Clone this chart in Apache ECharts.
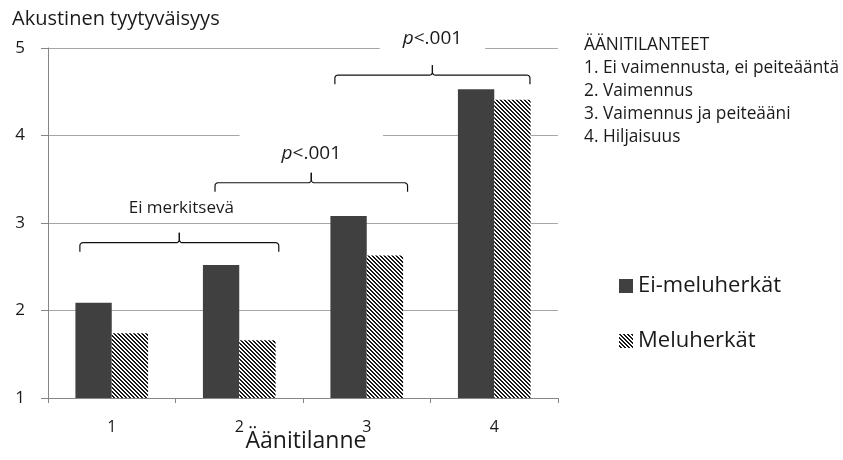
<!DOCTYPE html>
<html><head><meta charset="utf-8">
<script src="https://cdn.jsdelivr.net/npm/echarts@6/dist/echarts.min.js"></script>
<style>html,body{margin:0;padding:0;background:#fff}#c{width:843px;height:460px}</style>
</head><body><div id="c"></div>
<script>
const categories = ['1', '2', '3', '4'];
const eiMeluherkat = [2.09, 2.52, 3.08, 4.53];
const meluherkat = [1.74, 1.66, 2.63, 4.41];
const seriesNames = ['Ei-meluherkät', 'Meluherkät'];
const listLines = ['ÄÄNITILANTEET', '1. Ei vaimennusta, ei peiteääntä', '2. Vaimennus', '3. Vaimennus ja peiteääni', '4. Hiljaisuus'];
// brackets: category-index span and value level
const bracketFrom = [-0.25, 0.81, 1.75];
const bracketTo = [1.31, 2.32, 3.28];
const bracketLevel = [2.775, 3.46, 4.69];
const bracketLabels = ['Ei merkitsevä', '{i|p}<.001', '{i|p}<.001'];

// annotation layout (pixels)
const labelRise = [35, 36, 37];
const labelPad = [0, [18, 42, 4, 42], [4, 23, 4, 23]];
const labelSize = [17, 19, 19];

const FONT = '"Open Sans", "Noto Sans", sans-serif';
const TXT = '#1a1a1a';

function makeHatch() {
  const n = 4;
  const c = document.createElement('canvas');
  c.width = n; c.height = n;
  const ctx = c.getContext('2d');
  const img = ctx.createImageData(n, n);
  for (let y = 0; y < n; y++) for (let x = 0; x < n; x++) {
    const k = ((x - y) % n + n) % n;
    const v = k < 2 ? 25 : 255;
    const i = (y * n + x) * 4;
    img.data[i] = img.data[i + 1] = img.data[i + 2] = v;
    img.data[i + 3] = 255;
  }
  ctx.putImageData(img, 0, 0);
  return c;
}
const hatch = { image: makeHatch(), repeat: 'repeat' };

const chart = echarts.init(document.getElementById('c'), null, { renderer: 'canvas' });
chart.setOption({
  animation: false,
  backgroundColor: '#fff',
  title: {
    text: 'Akustinen tyytyväisyys', left: 7, top: 4,
    textStyle: { fontFamily: FONT, fontSize: 20, fontWeight: 'normal', color: TXT }
  },
  legend: {
    orient: 'vertical', left: 614, top: 270, itemGap: 33,
    itemWidth: 14, itemHeight: 14, icon: 'rect',
    textStyle: { fontFamily: FONT, fontSize: 22, color: TXT },
    data: seriesNames
  },
  grid: { left: 48, right: 285, top: 48, bottom: 62, outerBoundsMode: 'none', containLabel: false },
  xAxis: {
    type: 'category', data: categories,
    name: 'Äänitilanne', nameLocation: 'middle', nameGap: 32, nameMoveOverlap: false,
    nameTextStyle: { fontFamily: FONT, fontSize: 23, color: TXT, padding: [0, 0, 0, 6] },
    axisLine: { lineStyle: { color: '#868686', width: 1 } },
    axisTick: { show: true, length: 5, lineStyle: { color: '#868686' } },
    axisLabel: { fontFamily: FONT, fontSize: 16, color: TXT, margin: 21 }
  },
  yAxis: {
    type: 'value', min: 1, max: 5, interval: 1,
    axisLine: { show: true, lineStyle: { color: '#868686', width: 1 } },
    axisTick: { show: true, length: 7, lineStyle: { color: '#868686' } },
    axisLabel: { fontFamily: FONT, fontSize: 17, color: TXT, margin: 23 },
    splitLine: { lineStyle: { color: '#a6a6a6', width: 1 } }
  },
  series: [
    { name: seriesNames[0], type: 'bar', data: eiMeluherkat, barGap: '0%', barCategoryGap: '43%',
      itemStyle: { color: '#404040' } },
    { name: seriesNames[1], type: 'bar', data: meluherkat, barGap: '0%', barCategoryGap: '43%',
      itemStyle: { color: hatch } }
  ]
});

function arcPts(cx, cy, r, a0, a1, out) {
  const n = 6;
  for (let k = 0; k <= n; k++) {
    const t = a0 + (a1 - a0) * k / n;
    out.push([cx + r * Math.cos(t), cy + r * Math.sin(t)]);
  }
}
const graphics = [];
const p0 = chart.convertToPixel({ xAxisIndex: 0 }, 0);
const p1 = chart.convertToPixel({ xAxisIndex: 0 }, 1);
const step = p1 - p0;
const drop = 9, rise = 10, r = 3;
for (let b = 0; b < bracketFrom.length; b++) {
  const x0 = p0 + step * bracketFrom[b];
  const x1 = p0 + step * bracketTo[b];
  const y = chart.convertToPixel({ yAxisIndex: 0 }, bracketLevel[b]);
  const xc = (x0 + x1) / 2;
  const left = [[x0, y + drop]];
  arcPts(x0 + r, y + r, r, Math.PI, 1.5 * Math.PI, left);
  arcPts(xc - r, y - r, r, 0.5 * Math.PI, 0, left);
  left.push([xc, y - rise]);
  const right = [[x1, y + drop]];
  arcPts(x1 - r, y + r, r, 0, -0.5 * Math.PI, right);
  arcPts(xc + r, y - r, r, 0.5 * Math.PI, Math.PI, right);
  right.push([xc, y - rise]);
  [left, right].forEach(pts => graphics.push({
    type: 'polyline', z: 110, shape: { points: pts },
    style: { stroke: '#111', lineWidth: 1.2, fill: null }
  }));
  const isP = bracketLabels[b].indexOf('{i|') === 0;
  graphics.push({
    type: 'text', z: 105,
    x: xc + (isP ? 0 : 2), y: y - labelRise[b],
    style: {
      text: bracketLabels[b], fontFamily: FONT, fontSize: labelSize[b], fill: TXT,
      align: 'center', verticalAlign: 'middle',
      backgroundColor: isP ? '#fff' : null,
      padding: labelPad[b],
      rich: { i: { fontStyle: 'italic', fontFamily: FONT, fontSize: labelSize[b], fill: TXT } }
    }
  });
}
graphics.push({
  type: 'text', z: 100, x: 584, y: 34,
  style: {
    text: listLines.join('\n'), fontFamily: FONT, fontSize: 17.3, fill: TXT,
    lineHeight: 23, align: 'left', verticalAlign: 'top'
  }
});
chart.setOption({ graphic: graphics });
</script>
</body></html>
